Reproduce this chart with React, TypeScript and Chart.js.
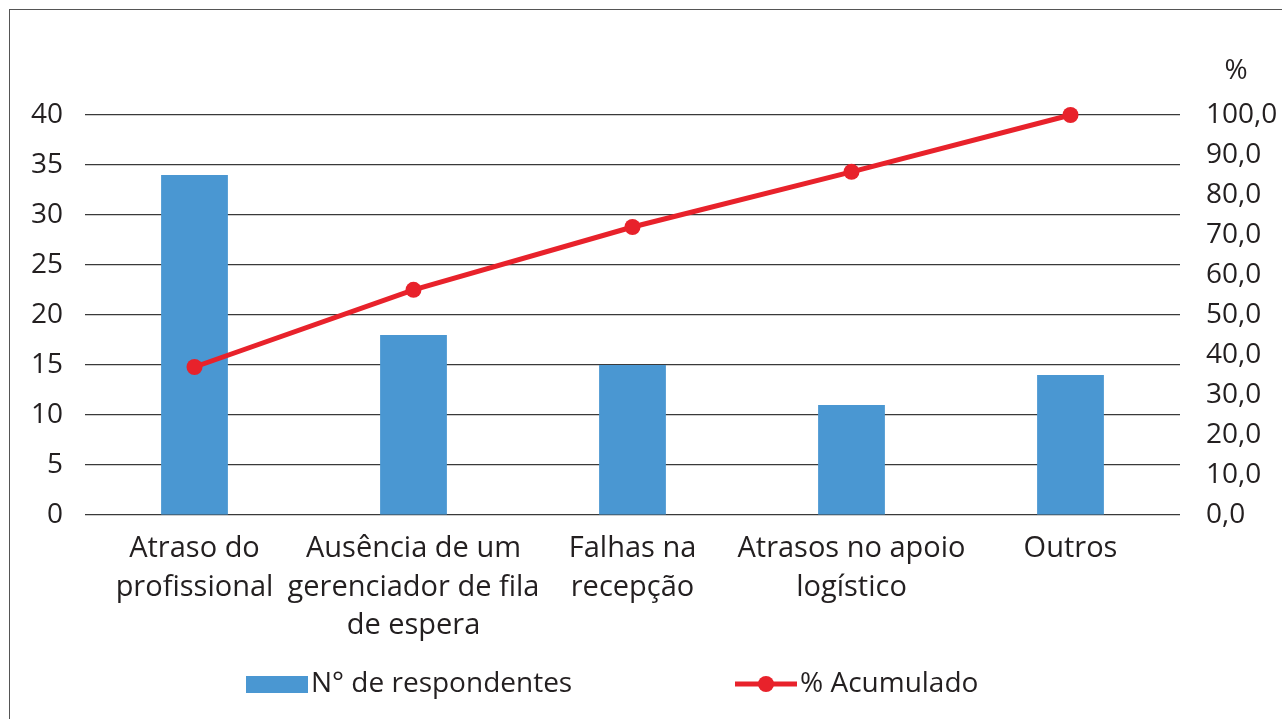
import React, { useEffect, useRef } from "react";
import { Chart, registerables } from "chart.js";

Chart.register(...registerables);

const categories: string[][] = [
  ["Atraso do", "profissional"],
  ["Ausência de um", "gerenciador de fila", "de espera"],
  ["Falhas na", "recepção"],
  ["Atrasos no apoio", "logístico"],
  ["Outros"],
];
const respondentes: number[] = [34, 18, 15, 11, 14];
const acumulado: number[] = [37.0, 56.3, 72.0, 85.8, 100.0];
const leftTicks = { min: 0, max: 40, step: 5 };
const rightTicks = { min: 0, max: 100, step: 10 };

const FONT = "'Open Sans', sans-serif";
const BLUE = "#4a97d2";
const RED = "#e8222b";
const TEXT = "#231f20";

const extras = {
  id: "extras",
  afterDraw(chart: any) {
    const ctx = chart.ctx;
    ctx.save();
    ctx.fillStyle = TEXT;
    ctx.font = `28px ${FONT}`;
    ctx.textBaseline = "middle";
    ctx.textAlign = "center";
    ctx.fillText("%", 1236, 71);
    // legend
    const ly = 684;
    ctx.fillStyle = BLUE;
    ctx.fillRect(246, ly - 8, 62, 17);
    ctx.fillStyle = TEXT;
    ctx.textAlign = "left";
    ctx.fillText("N° de respondentes", 311, ly);
    ctx.strokeStyle = RED;
    ctx.lineWidth = 5;
    ctx.beginPath();
    ctx.moveTo(735, ly);
    ctx.lineTo(797, ly);
    ctx.stroke();
    ctx.fillStyle = RED;
    ctx.beginPath();
    ctx.arc(766, ly, 8, 0, Math.PI * 2);
    ctx.fill();
    ctx.fillStyle = TEXT;
    ctx.fillText("% Acumulado", 800, ly);
    ctx.restore();
  },
};

export default function App() {
  const ref = useRef<HTMLCanvasElement | null>(null);
  useEffect(() => {
    if (!ref.current) return;
    const chart = new Chart(ref.current, {
      type: "bar",
      data: {
        labels: categories as any,
        datasets: [
          {
            type: "line",
            label: "% Acumulado",
            data: acumulado,
            yAxisID: "y1",
            borderColor: RED,
            backgroundColor: RED,
            borderWidth: 5,
            pointRadius: 8,
            pointBackgroundColor: RED,
            pointBorderWidth: 0,
            tension: 0,
            clip: false,
            order: 0,
          } as any,
          {
            type: "bar",
            label: "N° de respondentes",
            data: respondentes,
            yAxisID: "y",
            backgroundColor: BLUE,
            barPercentage: 0.305,
            categoryPercentage: 1,
            order: 1,
          },
        ],
      },
      options: {
        responsive: false,
        animation: false,
        layout: { padding: { top: 115, left: 0, right: 0, bottom: 0 } },
        plugins: { legend: { display: false }, tooltip: { enabled: false } },
        scales: {
          x: {
            grid: { display: false },
            border: { display: false },
            ticks: {
              color: TEXT,
              font: { family: FONT, size: 29, lineHeight: 1.34 },
              padding: 6,
              maxRotation: 0,
              autoSkip: false,
            },
            afterFit: (s: any) => {
              s.height = 204;
            },
          },
          y: {
            position: "left",
            min: leftTicks.min,
            max: leftTicks.max,
            grid: { color: "#3a3a3a", lineWidth: 1.2, drawTicks: false },
            border: { display: false },
            ticks: {
              stepSize: leftTicks.step,
              color: TEXT,
              font: { family: FONT, size: 28 },
              padding: 22,
            },
            afterFit: (s: any) => {
              s.width = 85;
            },
          },
          y1: {
            position: "right",
            min: rightTicks.min,
            max: rightTicks.max,
            grid: { display: false, drawTicks: false },
            border: { display: false },
            ticks: {
              stepSize: rightTicks.step,
              color: TEXT,
              font: { family: FONT, size: 28 },
              padding: 26,
              callback: (v: any) => Number(v).toFixed(1).replace(".", ","),
            },
            afterFit: (s: any) => {
              s.width = 102;
            },
          },
        },
      },
      plugins: [extras],
    });
    return () => chart.destroy();
  }, []);

  return (
    <div style={{ position: "fixed", left: 0, top: 0, width: 1282, height: 719, background: "#fff", overflow: "hidden" }}>
      <div
        style={{
          position: "absolute",
          left: 9,
          top: 9,
          width: 1290,
          height: 730,
          borderLeft: "1.5px solid #555",
          borderTop: "1.5px solid #555",
        }}
      />
      <canvas ref={ref} width={1282} height={719} style={{ position: "absolute", left: 0, top: 0, width: 1282, height: 719 }} />
    </div>
  );
}
